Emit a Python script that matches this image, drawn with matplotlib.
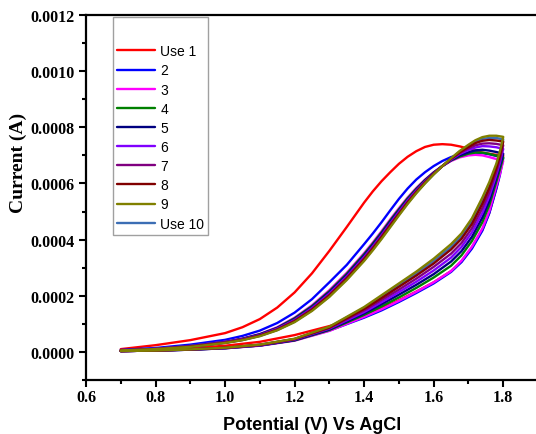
import matplotlib
matplotlib.use("Agg")
import matplotlib.pyplot as plt
import numpy as np
from matplotlib.ticker import MultipleLocator, FormatStrFormatter

# Potential grids (V vs AgCl): forward (lower) branch and reverse (upper) branch
v_fwd = [0.70, 0.80, 0.90, 1.00, 1.10, 1.20, 1.30, 1.40, 1.45, 1.50, 1.55, 1.60, 1.65, 1.68, 1.71, 1.74, 1.76, 1.78, 1.79, 1.80]
v_rev = [1.80, 1.78, 1.76, 1.74, 1.72, 1.70, 1.675, 1.65, 1.625, 1.60, 1.575, 1.55, 1.525, 1.50,
         1.475, 1.45, 1.425, 1.40, 1.35, 1.30, 1.25, 1.20, 1.15, 1.10, 1.05, 1.00, 0.90, 0.80, 0.70]

labels = ["Use 1", "2", "3", "4", "5", "6", "7", "8", "9", "Use 10"]
colors = ["#FF0000", "#0000FF", "#FF00FF", "#008000", "#000080",
          "#8000FF", "#800080", "#800000", "#808000", "#3C6EB4"]

# Currents in units of 1e-4 A, forward (lower) branch
fwd_use1  = [0.05, 0.08, 0.13, 0.22, 0.36, 0.60, 0.92, 1.30, 1.56, 1.84, 2.15, 2.48, 2.88, 3.22, 3.72, 4.35, 4.96, 5.82, 6.35, 7.00]
fwd_2     = [0.03, 0.05, 0.08, 0.13, 0.23, 0.42, 0.76, 1.22, 1.48, 1.78, 2.10, 2.44, 2.85, 3.20, 3.68, 4.32, 4.94, 5.80, 6.28, 6.90]
fwd_3     = [0.03, 0.05, 0.08, 0.13, 0.22, 0.40, 0.75, 1.25, 1.52, 1.82, 2.14, 2.48, 2.88, 3.25, 3.75, 4.40, 5.02, 5.90, 6.32, 6.80]
fwd_4     = [0.03, 0.05, 0.08, 0.13, 0.23, 0.41, 0.78, 1.32, 1.62, 1.94, 2.28, 2.65, 3.07, 3.44, 3.95, 4.62, 5.23, 6.06, 6.48, 6.93]
fwd_5     = [0.03, 0.05, 0.08, 0.14, 0.23, 0.42, 0.80, 1.37, 1.70, 2.04, 2.39, 2.77, 3.22, 3.59, 4.10, 4.79, 5.38, 6.18, 6.60, 7.06]
fwd_6     = [0.03, 0.05, 0.09, 0.14, 0.24, 0.44, 0.83, 1.42, 1.77, 2.13, 2.50, 2.90, 3.36, 3.74, 4.26, 4.95, 5.54, 6.30, 6.72, 7.23]
fwd_7     = [0.03, 0.05, 0.09, 0.14, 0.25, 0.45, 0.85, 1.48, 1.85, 2.22, 2.61, 3.03, 3.50, 3.88, 4.41, 5.12, 5.69, 6.42, 6.84, 7.36]
fwd_8     = [0.03, 0.05, 0.09, 0.15, 0.25, 0.46, 0.87, 1.53, 1.92, 2.32, 2.72, 3.15, 3.65, 4.03, 4.56, 5.28, 5.84, 6.54, 6.96, 7.49]
fwd_9     = [0.03, 0.05, 0.09, 0.15, 0.26, 0.47, 0.90, 1.60, 2.02, 2.44, 2.86, 3.32, 3.84, 4.22, 4.76, 5.50, 6.05, 6.70, 7.12, 7.66]
fwd_use10 = [0.03, 0.05, 0.09, 0.15, 0.26, 0.46, 0.89, 1.57, 1.97, 2.38, 2.79, 3.24, 3.74, 4.12, 4.66, 5.39, 5.95, 6.62, 7.04, 7.57]

# Currents in units of 1e-4 A, reverse (upper) branch
rev_use1  = [7.00, 7.02, 7.06, 7.10, 7.16, 7.24, 7.32, 7.38, 7.40, 7.38, 7.30, 7.15, 6.95, 6.70,
             6.40, 6.08, 5.72, 5.32, 4.45, 3.60, 2.80, 2.12, 1.58, 1.17, 0.88, 0.67, 0.42, 0.24, 0.10]
rev_2     = [6.90, 6.98, 7.04, 7.08, 7.10, 7.08, 7.03, 6.94, 6.80, 6.62, 6.40, 6.14, 5.82, 5.45,
             5.04, 4.62, 4.22, 3.84, 3.10, 2.48, 1.88, 1.40, 1.03, 0.76, 0.57, 0.43, 0.26, 0.14, 0.07]
rev_3     = [6.80, 6.87, 6.94, 7.00, 7.02, 7.00, 6.93, 6.80, 6.62, 6.40, 6.14, 5.84, 5.50, 5.12,
             4.72, 4.30, 3.90, 3.52, 2.82, 2.20, 1.66, 1.22, 0.88, 0.64, 0.48, 0.36, 0.21, 0.11, 0.05]
rev_4     = [6.93, 6.99, 7.05, 7.10, 7.10, 7.06, 6.96, 6.82, 6.62, 6.39, 6.12, 5.81, 5.47, 5.08,
             4.68, 4.26, 3.86, 3.48, 2.78, 2.16, 1.63, 1.20, 0.86, 0.63, 0.47, 0.35, 0.21, 0.11, 0.05]
rev_5     = [7.06, 7.12, 7.17, 7.20, 7.18, 7.11, 7.00, 6.83, 6.62, 6.38, 6.10, 5.78, 5.43, 5.04,
             4.64, 4.22, 3.82, 3.44, 2.74, 2.13, 1.60, 1.17, 0.85, 0.62, 0.46, 0.35, 0.20, 0.11, 0.05]
rev_6     = [7.23, 7.29, 7.32, 7.33, 7.28, 7.19, 7.05, 6.85, 6.62, 6.36, 6.07, 5.75, 5.39, 4.99,
             4.58, 4.16, 3.76, 3.38, 2.69, 2.08, 1.56, 1.14, 0.83, 0.60, 0.45, 0.34, 0.20, 0.11, 0.05]
rev_7     = [7.36, 7.41, 7.43, 7.42, 7.36, 7.25, 7.08, 6.87, 6.62, 6.35, 6.05, 5.72, 5.35, 4.95,
             4.54, 4.12, 3.72, 3.34, 2.65, 2.04, 1.53, 1.12, 0.81, 0.59, 0.44, 0.33, 0.19, 0.10, 0.05]
rev_8     = [7.49, 7.53, 7.55, 7.52, 7.44, 7.30, 7.11, 6.88, 6.62, 6.34, 6.03, 5.69, 5.32, 4.91,
             4.50, 4.08, 3.68, 3.30, 2.61, 2.01, 1.50, 1.09, 0.79, 0.58, 0.43, 0.33, 0.19, 0.10, 0.05]
rev_9     = [7.66, 7.70, 7.70, 7.65, 7.54, 7.38, 7.16, 6.90, 6.62, 6.32, 6.00, 5.65, 5.27, 4.86,
             4.44, 4.02, 3.62, 3.24, 2.56, 1.96, 1.46, 1.06, 0.77, 0.56, 0.42, 0.32, 0.18, 0.10, 0.05]
rev_use10 = [7.57, 7.62, 7.62, 7.59, 7.49, 7.34, 7.14, 6.89, 6.62, 6.33, 6.01, 5.67, 5.29, 4.89,
             4.47, 4.05, 3.65, 3.27, 2.59, 1.98, 1.48, 1.08, 0.78, 0.57, 0.42, 0.32, 0.18, 0.10, 0.05]

fwd_all = [fwd_use1, fwd_2, fwd_3, fwd_4, fwd_5, fwd_6, fwd_7, fwd_8, fwd_9, fwd_use10]
rev_all = [rev_use1, rev_2, rev_3, rev_4, rev_5, rev_6, rev_7, rev_8, rev_9, rev_use10]

x_ticks = [0.6, 0.8, 1.0, 1.2, 1.4, 1.6, 1.8]
y_ticks = [0.0000, 0.0002, 0.0004, 0.0006, 0.0008, 0.0010, 0.0012]

W, H = 536, 435
fig = plt.figure(figsize=(W / 100, H / 100), dpi=100)
ax = fig.add_axes([86 / W, (H - 381) / H, 452 / W, 365 / H])

zorders = [3, 3, 3, 3, 3, 3, 3, 3, 4, 2]
handles = []
for lab, col, f, r, z in zip(labels, colors, fwd_all, rev_all, zorders):
    v = np.array(v_fwd + v_rev)
    i = np.array(f + r) * 1e-4
    h, = ax.plot(v, i, color=col, lw=1.7, label=lab, zorder=z,
                 solid_joinstyle="round", solid_capstyle="round")
    handles.append(h)

ax.set_xlim(0.6, 1.9)
ax.set_ylim(-0.0001, 0.0012)
ax.set_xticks(x_ticks)
ax.set_yticks(y_ticks)
ax.xaxis.set_minor_locator(MultipleLocator(0.1))
ax.yaxis.set_minor_locator(MultipleLocator(0.0001))
ax.xaxis.set_major_formatter(FormatStrFormatter("%.1f"))
ax.yaxis.set_major_formatter(FormatStrFormatter("%.4f"))

for s in ["left", "bottom", "top"]:
    ax.spines[s].set_linewidth(1.6)
ax.spines["right"].set_visible(False)

ax.tick_params(which="both", direction="out", top=False, right=False, width=1.5)
ax.tick_params(which="major", length=5)
ax.tick_params(which="minor", length=3)
ax.tick_params(axis="x", which="major", pad=1.5)
ax.tick_params(axis="y", which="major", pad=3)
for t in ax.get_xticklabels() + ax.get_yticklabels():
    t.set_fontfamily("Liberation Serif")
    t.set_fontweight("bold")
    t.set_fontsize(11.5)

ax.set_ylabel("Current (A)", family="Liberation Serif", fontweight="bold", fontsize=14)
ax.yaxis.set_label_coords(-0.13, 0.597)
ax.set_xlabel("Potential (V) Vs AgCl", family="Liberation Sans", fontweight="bold", fontsize=13)
ax.xaxis.set_label_coords(0.5, -0.098)

leg = ax.legend(handles=handles, loc="upper left", bbox_to_anchor=(27 / 452, 1 - 2 / 365),
                borderaxespad=0, fancybox=False, frameon=True, edgecolor="#888888",
                prop={"family": "Liberation Sans", "size": 10}, handlelength=2.75,
                handletextpad=0.35, labelspacing=0.37, borderpad=0.3,
                title=" ", title_fontsize=13)
leg.get_frame().set_linewidth(1.0)
for lh in leg.get_lines():
    lh.set_linewidth(1.7)

fig.savefig("out.png", dpi=100)
